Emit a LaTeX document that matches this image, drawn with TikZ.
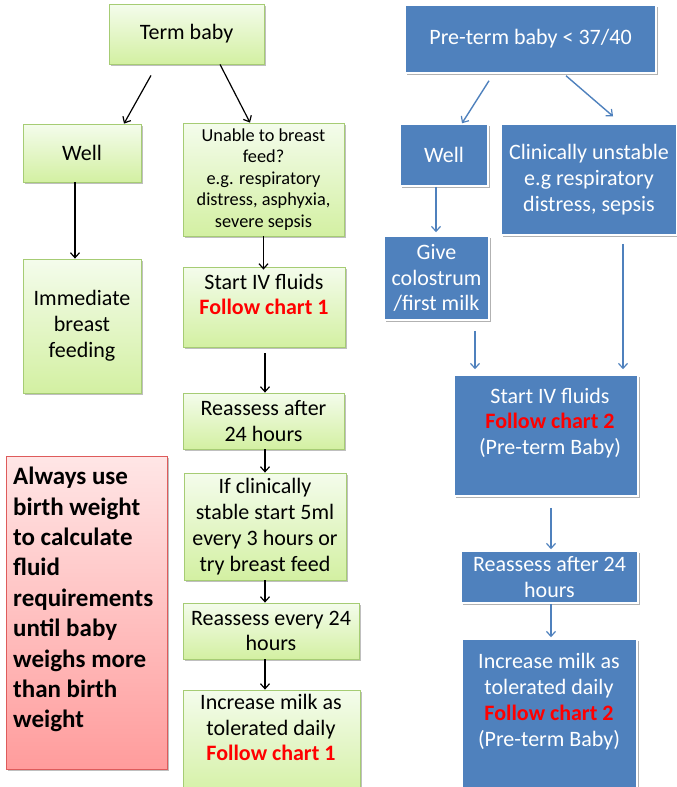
\documentclass[tikz,border=0pt]{standalone}
\usepackage{fontspec}
\setmainfont{Carlito}
\usetikzlibrary{arrows.meta,shadows,calc}
\definecolor{gtop}{HTML}{F4FCEC}
\definecolor{gbot}{HTML}{D3F0A2}
\definecolor{gline}{HTML}{A6CC74}
\definecolor{rtop}{HTML}{FFE6E6}
\definecolor{rbot}{HTML}{FF9C9C}
\definecolor{rline}{HTML}{DE5B5B}
\definecolor{bfill}{HTML}{4F81BD}
\definecolor{barrow}{HTML}{4F81BD}
\definecolor{fred}{HTML}{FF0000}
\begin{document}
\begin{tikzpicture}[x=1pt,y=-1pt,
  sz/.style 2 args={minimum width=#1pt, minimum height=#2pt},
  fmain/.style={font=\fontsize{22}{25.8}\selectfont},
  fsmall/.style={font=\fontsize{18.3}{21.6}\selectfont},
  gbox/.style={draw=gline, line width=0.8pt, top color=gtop, bottom color=gbot, inner sep=0pt, align=center,
    drop shadow={shadow xshift=1.5pt, shadow yshift=-1.5pt, opacity=0.25, fill=black}},
  bbox/.style={draw=white, line width=1.5pt, fill=bfill, text=white, inner sep=0pt, align=center,
    drop shadow={shadow xshift=1.5pt, shadow yshift=-1.5pt, opacity=0.3, fill=black}},
  rbox/.style={draw=rline, line width=0.8pt, top color=rtop, bottom color=rbot, inner sep=0pt,
    drop shadow={shadow xshift=1.5pt, shadow yshift=-1.5pt, opacity=0.25, fill=black}},
  txt/.style={inner sep=0pt, align=center},
  arr/.style={draw=black, line width=1.2pt, -{Straight Barb[length=5pt,width=9pt,line width=1.2pt]}},
  barr/.style={draw=barrow, line width=1.4pt, -{Straight Barb[length=5pt,width=9pt,line width=1.2pt]}},
  fc/.style={text=fred, font=\fontsize{22}{25.8}\selectfont\bfseries}
]
\useasboundingbox (0,0) rectangle (677,787);

% ---------- left column (term baby)
\node[gbox, sz={155}{60}, fmain] (tb) at (186.5,34) {Term baby};
\node[gbox, sz={118}{58}, fmain] (wl) at (82,153) {Well};
\node[gbox, sz={161}{113}, fsmall] (un) at (263.5,179.5) {Unable to breast\\feed?\\e.g. respiratory\\distress, asphyxia,\\severe sepsis};
\node[gbox, sz={118}{134}, fmain] (imm) at (82,326) {Immediate\\breast\\feeding};
\node[gbox, sz={162}{80}] (siv) at (264,307) {};
\node[txt, fmain] (sivt) at (264,294.5) {Start IV fluids\\\textbf{\color{fred}Follow chart 1}};
\node[gbox, sz={161}{56}, fmain] (ra) at (263.5,421) {Reassess after\\24 hours};
\node[gbox, sz={162}{107}, fmain] (ifc) at (265,526.5) {If clinically\\stable start 5ml\\every 3 hours or\\try breast feed};
\node[gbox, sz={176}{56}, fmain] (re) at (271,631) {Reassess every 24\\hours};
\node[gbox, sz={177}{110}] (inc) at (271.5,745) {};
\node[txt, fmain] (inct) at (271,727.5) {Increase milk as\\tolerated daily\\\textbf{\color{fred}Follow chart 1}};

\node[rbox, sz={161}{313}] (note) at (86.5,612.5) {};
\node[inner sep=0pt, anchor=north west, align=left, font=\fontsize{25}{30.4}\selectfont\bfseries] (notet) at (13,467)
  {Always use\\birth weight\\to calculate\\fluid\\requirements\\until baby\\weighs more\\than birth\\weight};

\draw[arr] ([xshift=-35.5pt,yshift=-11pt]tb.south) -- ([xshift=42pt]wl.north);
\draw[arr] ([xshift=33.5pt]tb.south) -- ([xshift=-13.5pt]un.north);
\draw[arr] ([xshift=-7pt]wl.south) -- ([xshift=-7pt]imm.north);
\draw[arr] (un.south) -- ([yshift=-3pt]un.south |- siv.north);
\draw[arr] ([xshift=1pt,yshift=-6pt]siv.south) -- ([xshift=1pt]siv.south |- ra.north);
\draw[arr] ([xshift=1pt]siv.south |- ra.south) -- ([xshift=1pt]siv.south |- ifc.north);
\draw[arr] ([xshift=1pt]siv.south |- ifc.south) -- ([xshift=1pt]siv.south |- re.north);
\draw[arr] ([xshift=1pt]siv.south |- re.south) -- ([xshift=1pt]siv.south |- inc.north);

% ---------- right column (pre-term baby)
\node[bbox, sz={251}{68}, fmain] (pt) at (530.5,39) {Pre-term baby < 37/40};
\node[bbox, sz={88}{62}, fmain] (rw) at (444,155) {Well};
\node[bbox, sz={176}{111}, fmain] (cu) at (589,179.5) {Clinically unstable\\e.g respiratory\\distress, sepsis};
\node[bbox, sz={105}{84}, fmain] (gc) at (436.5,278) {Give\\colostrum\\/first milk};
\node[bbox, sz={184}{121}] (siv2) at (546,435.5) {};
\node[txt, fmain, text=white] (siv2t) at (550,423) {Start IV fluids\\\textbf{\color{fred}Follow chart 2}\\(Pre-term Baby)};
\node[bbox, sz={177}{52}, fmain] (ra2) at (549.5,577) {Reassess after 24\\hours};
\node[bbox, sz={175}{160}] (inc2) at (549.5,719) {};
\node[txt, fmain, text=white] (inc2t) at (549,701.5) {Increase milk as\\tolerated daily\\\textbf{\color{fred}Follow chart 2}\\(Pre-term Baby)};

\draw[barr] ([xshift=-41.5pt,yshift=-7pt]pt.south) -- ([xshift=18pt]rw.north);
\draw[barr] ([xshift=35.5pt,yshift=-2pt]pt.south) -- ([xshift=24pt,yshift=7pt]cu.north);
\draw[barr] ([xshift=-8pt]rw.south) -- ([xshift=-0.5pt,yshift=3pt]gc.north);
\draw[barr] ([xshift=38.5pt,yshift=-10pt]gc.south) -- ([xshift=-71pt,yshift=5pt]siv2.north);
\draw[barr] ([xshift=34pt,yshift=-8pt]cu.south) -- ([xshift=77pt,yshift=5pt]siv2.north);
\draw[barr] ([xshift=5pt,yshift=-11pt]siv2.south) -- ([xshift=1.5pt,yshift=1pt]ra2.north);
\draw[barr] ([xshift=1.5pt]ra2.south) -- ([xshift=1.5pt,yshift=1pt]inc2.north);
\end{tikzpicture}
\end{document}
